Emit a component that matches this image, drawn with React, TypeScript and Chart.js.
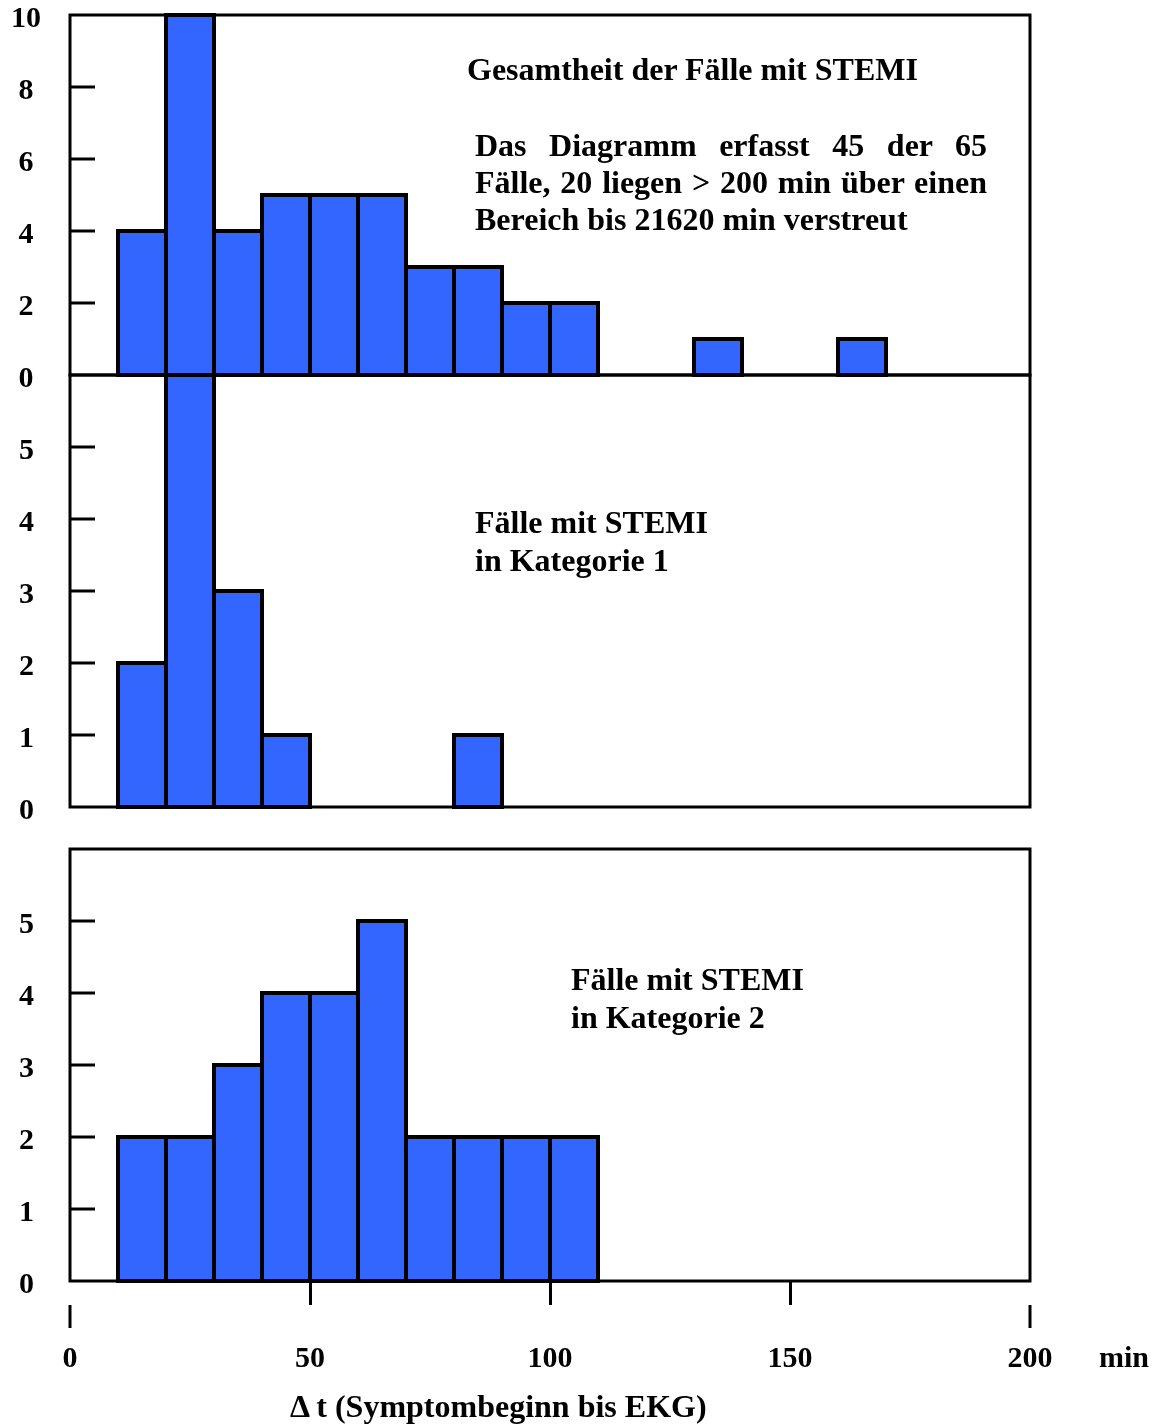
import React, { useEffect, useRef } from 'react';
import { Chart, registerables } from 'chart.js';

Chart.register(...registerables);

// Left edges of the 10-minute bins (minutes)
const binStarts = [10, 20, 30, 40, 50, 60, 70, 80, 90, 100, 110, 120, 130, 140, 150, 160];
const binWidth = 10;

// Case counts per bin
const allCases = [4, 10, 4, 5, 5, 5, 3, 3, 2, 2, 0, 0, 1, 0, 0, 1];
const category1 = [2, 6, 3, 1, 0, 0, 0, 1, 0, 0, 0, 0, 0, 0, 0, 0];
const category2 = [2, 2, 3, 4, 4, 5, 2, 2, 2, 2, 0, 0, 0, 0, 0, 0];

// Axes
const xMin = 0;
const xMax = 200;
const xTickValues = [0, 50, 100, 150, 200];
const xUnit = 'min';
const xTitle = 'Δ t (Symptombeginn bis EKG)';

const topPanelTicks = { max: 10, step: 2, lastLabel: 10 };
const catPanelTicks = { max: 6, step: 1, lastLabel: 5 };

// Annotations
const allCasesHeading = 'Gesamtheit der Fälle mit STEMI';
const allCasesNote = [
  'Das Diagramm erfasst 45 der 65',
  'Fälle, 20 liegen > 200 min über einen',
  'Bereich bis 21620 min verstreut',
];
const category1Label = ['Fälle mit STEMI', 'in Kategorie 1'];
const category2Label = ['Fälle mit STEMI', 'in Kategorie 2'];

const SERIF = '"Liberation Serif", "Times New Roman", Times, serif';
const BAR_BLUE = '#3366ff';
const PAGE_W = 1166;
const PAD_TOP = 60;

// Draws the panel frame, inward y tick marks and (optionally) the detached end ticks of the x axis
const panelFramePlugin = {
  id: 'panelFrame',
  afterDatasetsDraw(chart: any, _args: any, opts: any) {
    const { ctx, chartArea: a, scales } = chart;
    const y = scales.y;
    ctx.save();
    ctx.strokeStyle = '#000';
    ctx.lineWidth = 3;
    ctx.lineCap = 'butt';
    ctx.strokeRect(a.left, a.top, a.right - a.left, a.bottom - a.top);
    y.ticks.forEach((t: any) => {
      if (t.value > y.min && t.value < y.max) {
        const p = y.getPixelForValue(t.value);
        ctx.beginPath();
        ctx.moveTo(a.left, p);
        ctx.lineTo(a.left + 25, p);
        ctx.stroke();
      }
    });
    if (opts && opts.endTicks) {
      const x = scales.x;
      [x.min, x.max].forEach((v: number) => {
        const p = x.getPixelForValue(v);
        ctx.beginPath();
        ctx.moveTo(p, a.bottom + 24);
        ctx.lineTo(p, a.bottom + 47);
        ctx.stroke();
      });
    }
    ctx.restore();
  },
};

type PanelProps = {
  counts: number[];
  yMax: number;
  yStep: number;
  yLastLabel: number;
  labelPadding: number;
  top: number;
  height: number;
  bottomPad: number;
  withXAxis?: boolean;
};

function HistogramPanel(props: PanelProps) {
  const ref = useRef<HTMLCanvasElement | null>(null);

  useEffect(() => {
    if (!ref.current) return;
    const font = { family: SERIF, size: 30, weight: 'bold' as const, lineHeight: 1 };
    const withX = !!props.withXAxis;
    const chart = new Chart(ref.current, {
      type: 'bar',
      data: {
        datasets: [
          {
            data: binStarts.map((s, i) => ({ x: s + binWidth / 2, y: props.counts[i] > 0 ? props.counts[i] : null })) as any,
            backgroundColor: BAR_BLUE,
            borderColor: '#000',
            borderWidth: 4,
            borderSkipped: false,
            inflateAmount: 2,
            barPercentage: 1,
            categoryPercentage: 1,
            clip: false as any,
          },
        ],
      },
      options: {
        responsive: false,
        maintainAspectRatio: false,
        animation: false,
        events: [],
        layout: { padding: { left: 0, right: PAGE_W - 1030, top: PAD_TOP, bottom: props.bottomPad } },
        plugins: {
          legend: { display: false },
          tooltip: { enabled: false },
          title: { display: false },
          panelFrame: { endTicks: withX },
        } as any,
        scales: {
          x: {
            type: 'linear',
            min: xMin,
            max: xMax,
            offset: false,
            display: withX,
            afterFit: (s: any) => {
              s.height = withX ? 100 : 0;
            },
            afterBuildTicks: (s: any) => {
              s.ticks = xTickValues.map((v) => ({ value: v }));
            },
            border: { display: false },
            grid: {
              offset: false,
              drawOnChartArea: false,
              drawTicks: true,
              tickLength: 24,
              lineWidth: 3,
              color: (c: any) =>
                c.tick && (c.tick.value === xMin || c.tick.value === xMax) ? 'rgba(0,0,0,0)' : '#000',
            },
            ticks: {
              color: '#000',
              padding: 39,
              maxRotation: 0,
              autoSkip: false,
              font,
            },
          },
          y: {
            type: 'linear',
            min: 0,
            max: props.yMax,
            afterFit: (s: any) => {
              s.width = 70;
            },
            border: { display: false },
            grid: { display: false, drawTicks: false },
            ticks: {
              stepSize: props.yStep,
              color: '#000',
              padding: props.labelPadding,
              crossAlign: 'center',
              labelOffset: 4,
              font,
              callback: (v: any) => (Number(v) > props.yLastLabel ? null : String(v)),
            },
          },
        },
      },
      plugins: [panelFramePlugin],
    });
    return () => chart.destroy();
  }, []);

  return (
    <canvas
      ref={ref}
      width={PAGE_W}
      height={props.height}
      style={{ position: 'absolute', left: 0, top: props.top, width: PAGE_W, height: props.height }}
    />
  );
}

const textStyle: React.CSSProperties = {
  position: 'absolute',
  fontFamily: SERIF,
  fontWeight: 'bold',
  fontSize: 32,
  lineHeight: '37px',
  color: '#000',
  whiteSpace: 'nowrap',
};

export default function App() {
  return (
    <div
      style={{
        position: 'absolute',
        left: 0,
        top: 0,
        width: PAGE_W,
        height: 1425,
        overflow: 'hidden',
        background: '#fff',
      }}
    >
      {/* all cases: plot area 15..375 */}
      <HistogramPanel
        counts={allCases}
        yMax={topPanelTicks.max}
        yStep={topPanelTicks.step}
        yLastLabel={topPanelTicks.lastLabel}
        labelPadding={29}
        top={15 - PAD_TOP}
        height={PAD_TOP + 360 + 60}
        bottomPad={60}
      />
      {/* category 1: plot area 375..807 */}
      <HistogramPanel
        counts={category1}
        yMax={catPanelTicks.max}
        yStep={catPanelTicks.step}
        yLastLabel={catPanelTicks.lastLabel}
        labelPadding={36}
        top={375 - PAD_TOP}
        height={PAD_TOP + 432 + 60}
        bottomPad={60}
      />
      {/* category 2: plot area 849..1281, plus the time axis */}
      <HistogramPanel
        counts={category2}
        yMax={catPanelTicks.max}
        yStep={catPanelTicks.step}
        yLastLabel={catPanelTicks.lastLabel}
        labelPadding={36}
        top={849 - PAD_TOP}
        height={1425 - (849 - PAD_TOP)}
        bottomPad={1425 - 1281 - 100}
        withXAxis
      />

      <div style={{ ...textStyle, left: 467, top: 51 }}>{allCasesHeading}</div>
      <div style={{ ...textStyle, left: 475, top: 127, width: 512 }}>
        {allCasesNote.map((line, i) => (
          <div
            key={i}
            style={{
              textAlign: i < allCasesNote.length - 1 ? 'justify' : 'left',
              textAlignLast: i < allCasesNote.length - 1 ? 'justify' : 'left',
            } as React.CSSProperties}
          >
            {line}
          </div>
        ))}
      </div>
      <div style={{ ...textStyle, left: 475, top: 503, lineHeight: '38px' }}>
        {category1Label.map((line, i) => (
          <div key={i}>{line}</div>
        ))}
      </div>
      <div style={{ ...textStyle, left: 571, top: 960, lineHeight: '38px' }}>
        {category2Label.map((line, i) => (
          <div key={i}>{line}</div>
        ))}
      </div>
      <div style={{ ...textStyle, fontSize: 30, lineHeight: '36px', left: 1099, top: 1339 }}>{xUnit}</div>
      <div style={{ ...textStyle, left: 290, top: 1388 }}>{xTitle}</div>
    </div>
  );
}
